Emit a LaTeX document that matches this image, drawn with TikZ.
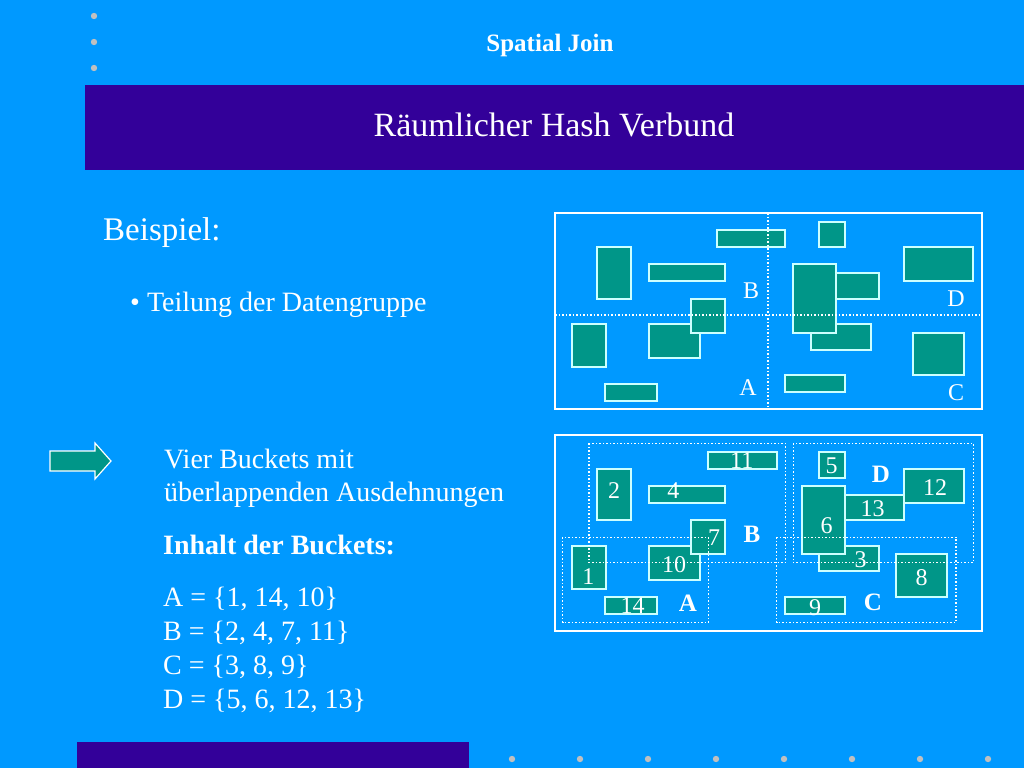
\documentclass[tikz,border=0pt]{standalone}
\usepackage{fontspec}
\setmainfont{Liberation Serif}
\usetikzlibrary{positioning}
\definecolor{SkyBlue}{RGB}{0,153,255}
\definecolor{DeepViolet}{RGB}{51,0,153}
\definecolor{TealBox}{RGB}{0,150,136}
\definecolor{DotGray}{RGB}{192,192,192}
\definecolor{EdgeCyan}{RGB}{204,255,255}

\begin{document}
\begin{tikzpicture}[x=1pt, y=-1pt,
    obj/.style={draw=EdgeCyan, line width=1.8pt, fill=TealBox},
    frame/.style={draw=white, line width=1.5pt},
    grid/.style={draw=white, dotted, line width=1.5pt},
    num/.style={text=white, inner sep=0pt, font=\fontsize{24}{24}\selectfont},
    zone/.style={text=white, inner sep=0pt, font=\fontsize{24}{24}\selectfont},
    bucket/.style={text=white, inner sep=0pt, font=\fontsize{25}{25}\selectfont\bfseries},
    txt/.style={text=white, anchor=base west, inner sep=0pt, font=\fontsize{28}{34}\selectfont}]
    % Fondo
    \useasboundingbox (0,0) rectangle (1024,768);
    \fill[SkyBlue] (0,0) rectangle (1024,768);
    \fill[DeepViolet] (85,85) rectangle (1024,170);
    \fill[DeepViolet] (77,742) rectangle (469,768);
    \foreach \y in {16,42,68}
        \fill[DotGray] (94,\y) circle (3.2);
    \foreach \i in {0,...,7}
        \fill[DotGray] (512+68*\i,759) circle (3.2);

    % Titulos
    \node[text=white, anchor=base, inner sep=0pt, font=\fontsize{25}{25}\selectfont\bfseries] (title) at (550,52) {Spatial Join};
    \node[text=white, anchor=base, inner sep=0pt, font=\fontsize{34}{34}\selectfont] (subtitle) at (554,136) {Räumlicher Hash Verbund};

    % Texto
    \node[txt, font=\fontsize{33}{33}\selectfont] (beispiel) at (103,240) {Beispiel:};
    \node[txt] (teilung) at (130,311) {\textbullet\ Teilung der Datengruppe};
    \node[txt] (vier) at (164,468) {Vier Buckets mit};
    \node[txt] (ueber) at (164,501) {überlappenden Ausdehnungen};
    \node[txt, font=\fontsize{28}{34}\selectfont\bfseries] (inhalt) at (163,554) {Inhalt der Buckets:};
    \node[txt] (setA) at (163,606) {A = \{1, 14, 10\}};
    \node[txt] (setB) at (163,640) {B = \{2, 4, 7, 11\}};
    \node[txt] (setC) at (163,674) {C = \{3, 8, 9\}};
    \node[txt] (setD) at (163,708) {D = \{5, 6, 12, 13\}};

    % Flecha
    \draw[obj, draw=white, line width=1.2pt] (50,451) -- (95,451) -- (95,443) -- (111,461)
        -- (95,479) -- (95,471) -- (50,471) -- cycle;

    % Datengruppe (oben)
    \foreach \xa/\ya/\xb/\yb in {648.7/324/699.7/358.3, 810.7/324/870.7/350,
        716.7/230/785.3/247.3, 819/221.7/845/247.3, 597/247.3/631.3/298.7,
        648.7/264.3/725.3/281.3, 904.3/247.3/972.7/281.3, 836.3/272.7/879/298.7,
        793.3/264.3/836.3/332.7, 691/298.7/725.3/332.7, 571.7/324/606/367,
        913/332.7/964.3/375.3, 605.3/384/657.3/401, 785/375.3/845/392.3}
        \draw[obj] (\xa,\ya) rectangle (\xb,\yb);
    \draw[grid] (768,213) -- (768,409);
    \draw[grid] (555,315) -- (982,315);
    \draw[frame] (555,213) rectangle (982,409);
    \node[zone] (zB) at (751,291) {B};
    \node[zone] (zD) at (956,299) {D};
    \node[zone] (zA) at (748,388) {A};
    \node[zone] (zC) at (956,393) {C};

    % Buckets (unten)
    \foreach \xa/\ya/\xb/\yb in {648.7/545.7/699.7/580, 819/545.7/879/571.3,
        708.3/452/776.7/469.3, 819/452/845/477.7, 597/469/631.3/520.3,
        648.7/486/725.3/503, 904.3/469/964.3/503, 845/494.7/904.3/520.3,
        801.7/486/845/554.3, 691/520.3/725.3/554.3, 571.7/545.7/606/588.7,
        895.7/554.3/947.3/597, 605.3/596.7/657.3/614, 785/596.7/845/614}
        \draw[obj] (\xa,\ya) rectangle (\xb,\yb);
    \foreach \n/\x/\y in {11/741.7/460.7, 5/831.7/466, 2/614/491, 4/673.3/491,
        12/935/487.3, 13/872.7/509, 6/826.7/525.7, 7/714/537.3, 10/674/565,
        3/860.7/560, 1/588.3/576.7, 8/921.7/577.7, 14/632.7/606, 9/815/607.3}
        \node[num] (n\n) at (\x,\y) {\n};
    \draw[grid] (589,443.3) rectangle (785.3,562.7);
    \draw[grid] (793.3,443.3) rectangle (973.3,562.7);
    \draw[grid] (562.7,537.3) rectangle (708.3,622.7);
    \draw[grid] (776.7,537.3) rectangle (956,622.7);
    \draw[frame] (555,435) rectangle (982,631);
    \node[bucket] (bD) at (881,474) {D};
    \node[bucket] (bB) at (752,534) {B};
    \node[bucket] (bA) at (688,603) {A};
    \node[bucket] (bC) at (873,602) {C};
\end{tikzpicture}
\end{document}
